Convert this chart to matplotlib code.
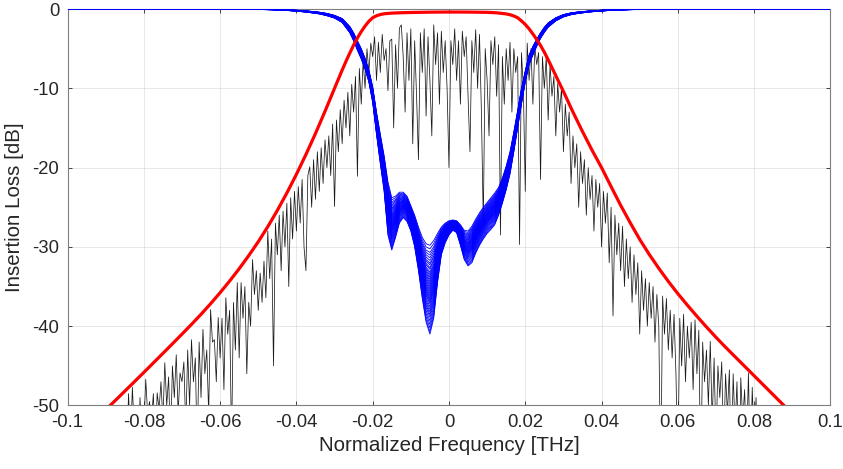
import numpy as np
import matplotlib
matplotlib.use("Agg")
import matplotlib.pyplot as plt
from matplotlib.ticker import FixedLocator, FixedFormatter

plt.rcParams['font.family'] = ['Liberation Sans', 'DejaVu Sans']
plt.rcParams['axes.unicode_minus'] = False

# ---------------- data ----------------
# Red: passband filter response
red_f = [-0.0925, -0.090, -0.0875, -0.085, -0.0825, -0.080, -0.0775, -0.075, -0.0725,
         -0.070, -0.0675, -0.065, -0.0625, -0.060, -0.0575, -0.055, -0.0525, -0.050,
         -0.0475, -0.045, -0.0425, -0.040, -0.0375, -0.035, -0.0325, -0.030, -0.029,
         -0.028, -0.027, -0.026, -0.025, -0.024, -0.023, -0.022, -0.021, -0.020,
         -0.019, -0.018, -0.017, -0.015, -0.0125, -0.010, -0.005, 0.0,
         0.005, 0.010, 0.0125, 0.015, 0.016, 0.017, 0.018, 0.019, 0.020, 0.021,
         0.022, 0.023, 0.024, 0.025, 0.026, 0.027, 0.028, 0.029, 0.030, 0.0325,
         0.035, 0.0375, 0.040, 0.0425, 0.045, 0.0475, 0.050, 0.0525, 0.055, 0.0575,
         0.060, 0.0625, 0.065, 0.0675, 0.070, 0.0725, 0.075, 0.0775, 0.080, 0.0825,
         0.085, 0.0875, 0.090, 0.0925]
red_db = [-51.7, -50.55, -49.38, -48.2, -47.02, -45.83, -44.63, -43.43, -42.22,
          -41.0, -39.77, -38.5, -37.17, -35.77, -34.3, -32.75, -31.1, -29.35,
          -27.45, -25.4, -23.2, -20.85, -18.35, -15.7, -12.9, -10.0, -8.85,
          -7.7, -6.6, -5.55, -4.55, -3.65, -2.85, -2.15, -1.55, -1.1,
          -0.85, -0.7, -0.6, -0.52, -0.47, -0.44, -0.4, -0.38,
          -0.39, -0.42, -0.48, -0.62, -0.72, -0.88, -1.1, -1.5, -1.95, -2.5,
          -3.15, -3.85, -4.6, -5.45, -6.4, -7.4, -8.4, -9.4, -10.4, -13.0,
          -15.45, -17.8, -20.0, -22.4, -24.75, -26.95, -29.05, -30.95, -32.7, -34.35,
          -35.9, -37.35, -38.75, -40.1, -41.4, -42.65, -43.85, -45.05, -46.25, -47.45,
          -48.65, -49.85, -51.05, -52.2]

# Blue: notch filter responses (Monte-Carlo family), band edges
blue_f = [-0.100, -0.060, -0.050, -0.045, -0.040, -0.037, -0.034, -0.032, -0.030,
          -0.028, -0.026, -0.025, -0.024, -0.023, -0.022, -0.021,
          -0.020, -0.019, -0.018, -0.017, -0.016, -0.015, -0.014, -0.013, -0.012, -0.011,
          -0.010, -0.009, -0.008, -0.007, -0.006, -0.005, -0.004, -0.003, -0.002, -0.001,
          0.000, 0.001, 0.002, 0.003, 0.004, 0.005, 0.006, 0.007, 0.008, 0.009,
          0.010, 0.011, 0.012, 0.013, 0.014, 0.015, 0.016, 0.017, 0.018, 0.019, 0.020,
          0.021, 0.022, 0.023, 0.024, 0.025, 0.026, 0.028, 0.030, 0.032, 0.034,
          0.037, 0.040, 0.045, 0.050, 0.060, 0.100]
blue_upper_db = [0.0, -0.005, -0.03, -0.06, -0.15, -0.25, -0.40, -0.55, -0.80,
                 -1.2, -2.2, -3.0, -4.0, -5.0, -6.2, -7.7,
                 -9.8, -13.0, -15.8, -18.5, -21.8, -23.8, -23.6, -23.1, -23.1, -23.6,
                 -24.8, -26.0, -27.5, -28.8, -29.6, -29.8, -29.2, -28.3, -27.5, -27.0,
                 -26.7, -26.6, -26.7, -27.2, -27.9, -28.0, -27.4, -26.5, -25.7, -25.0,
                 -24.4, -23.8, -23.2, -22.5, -21.3, -19.8, -18.0, -15.5, -12.8, -10.0, -7.8,
                 -5.8, -4.7, -3.8, -3.0, -2.3, -1.75, -1.1, -0.70, -0.48, -0.36,
                 -0.24, -0.15, -0.06, -0.03, -0.005, 0.0]
blue_lower_db = [0.0, -0.015, -0.06, -0.11, -0.27, -0.42, -0.62, -0.85, -1.15,
                 -1.7, -3.0, -4.0, -5.2, -6.3, -7.6, -9.2,
                 -11.8, -15.8, -19.5, -23.0, -28.5, -30.4, -28.8, -27.0, -26.3, -26.8,
                 -28.0, -30.0, -33.0, -36.5, -39.5, -41.0, -39.0, -34.5, -31.0, -29.5,
                 -28.5, -27.9, -28.2, -29.8, -31.6, -32.4, -32.0, -30.8, -29.8, -29.0,
                 -28.3, -27.8, -27.2, -26.0, -24.5, -22.8, -20.8, -18.0, -15.0, -12.0, -9.2,
                 -7.0, -5.8, -4.7, -3.7, -2.95, -2.3, -1.5, -1.0, -0.72, -0.55,
                 -0.37, -0.25, -0.11, -0.06, -0.015, 0.0]
# position of each Monte-Carlo trace inside the band (0 = upper edge, 1 = lower edge)
blue_mix = [0.00, 0.04, 0.08, 0.11, 0.14, 0.17, 0.20, 0.22, 0.25, 0.27,
            0.30, 0.32, 0.34, 0.36, 0.38, 0.40, 0.42, 0.44, 0.46, 0.48,
            0.50, 0.52, 0.54, 0.56, 0.58, 0.60, 0.62, 0.64, 0.66, 0.69,
            0.72, 0.75, 0.78, 0.81, 0.85, 0.89, 0.93, 0.97, 1.00]

# Black: measured spectrum, f from -0.09 to 0.09 THz
black_f_start, black_f_stop = -0.09, 0.09
black_db = [
    -58, -62, -56, -60, -57, -63, -55, -59, -54, -60,
    -50, -56, -48.5, -55, -47.7, -53, -51, -58, -49, -54,
    -53, -46.7, -51, -49.5, -52, -48.5, -56, -48.4, -50.5, -47,
    -52, -44.6, -50, -46.4, -55, -45, -49, -43.6, -51, -45.9,
    -47, -44.5, -53, -43, -50, -41.7, -47, -44, -56, -42,
    -49, -40.4, -46, -43, -51, -37.9, -42, -41.7, -47, -38.9,
    -44, -39, -48, -36.4, -41, -38, -55, -37, -43, -34.5,
    -44, -34.5, -39, -35, -46, -37, -40, -31.6, -36, -33,
    -38, -33.3, -37, -31.8, -36.4, -28, -34, -29, -45, -27,
    -31, -26, -33, -25.5, -30, -24.5, -35, -23.8, -29, -23,
    -28, -22.4, -27, -21.5, -30, -33, -21, -19.9, -25, -19,
    -24, -18, -23, -17.5, -22, -16.5, -20, -16, -21, -14.5,
    -24.9, -14, -18, -12.7, -17, -11.5, -15, -10.5, -16, -9.5,
    -13, -8.5, -21.1, -7.5, -12, -6.5, -10, -5, -8, -4.3,
    -6, -3.5, -9, -4.2, -8, -3.2, -6.5, -5, -10.3, -4,
    -3.8, -15, -4.5, -10, -2.4, -2, -6, -13, -3, -9,
    -2.5, -17, -4, -11, -19, -3, -8, -2.5, -13.5, -3.5,
    -9, -16, -2, -7, -3, -12, -2.8, -8, -4, -10,
    -20, -4, -7, -2.5, -9, -4, -12, -2.8, -6, -3.5,
    -11, -18, -4, -8, -2.6, -10, -3.2, -13, -27, -5,
    -9, -16, -4, -7, -3.5, -11, -4.5, -28.5, -6, -12,
    -5, -9, -4.2, -13, -5, -8, -6, -29.7, -5.5, -10,
    -23, -4.3, -9, -5, -12, -4.8, -7, -5.5, -21.5, -6,
    -10, -6, -14, -7, -11, -8.5, -16, -9.4, -13, -10,
    -18, -12, -16, -13, -22, -16, -20, -17, -25, -18,
    -22, -19, -26, -20, -24, -21, -28, -21.5, -25, -22,
    -30, -23, -27, -23.2, -32, -25, -38.7, -26, -31, -27,
    -33, -27.4, -35, -29, -34, -30, -37, -31, -36, -32,
    -41, -33, -38, -34, -40, -34.5, -39, -35, -42, -36,
    -40, -60, -36.2, -41, -36.5, -43, -38, -44, -38.5, -46,
    -58, -39, -45, -38.5, -47, -40, -44, -39.5, -48, -39.2,
    -46, -40.5, -60, -42, -47, -43, -50, -41.9, -52, -44,
    -55, -45, -49, -44.5, -56, -46, -51, -45.5, -58, -46,
    -53, -47, -60, -46.5, -52, -48, -56, -45.9, -58, -47.7,
    -55, -49, -60, -51, -57, -53, -60, -54, -58, -56,
    -60, -57, -61, -58, -62, -59, -63, -60, -62, -61, -63,
]

x_ticks = [-0.1, -0.08, -0.06, -0.04, -0.02, 0, 0.02, 0.04, 0.06, 0.08, 0.1]
x_tick_labels = ['-0.1', '-0.08', '-0.06', '-0.04', '-0.02', '0', '0.02', '0.04',
                 '0.06', '0.08', '0.1']
y_ticks = [-50, -40, -30, -20, -10, 0]
y_tick_labels = ['-50', '-40', '-30', '-20', '-10', '0']

# ---------------- plot ----------------
fig = plt.figure(figsize=(8.43, 4.69), dpi=100)
ax = fig.add_axes([0.0801, 0.1354, 0.905, 0.8454])

black_f = np.linspace(black_f_start, black_f_stop, len(black_db))
ax.plot(black_f, black_db, color='#1a1a1a', lw=0.55, zorder=2)

up = np.array(blue_upper_db)
lo = np.array(blue_lower_db)
for w in blue_mix:
    ax.plot(blue_f, up + w * (lo - up), color='blue', lw=0.6, zorder=3)

ax.plot(red_f, red_db, color='red', lw=2.3, zorder=4)

ax.set_xlim(-0.1, 0.1)
ax.set_ylim(-50, 0)
ax.xaxis.set_major_locator(FixedLocator(x_ticks))
ax.xaxis.set_major_formatter(FixedFormatter(x_tick_labels))
ax.yaxis.set_major_locator(FixedLocator(y_ticks))
ax.yaxis.set_major_formatter(FixedFormatter(y_tick_labels))

dark = '#262626'
ax.grid(True, color=dark, alpha=0.12, lw=0.6)
ax.set_axisbelow(True)
ax.tick_params(direction='in', length=3, width=0.6, colors=dark, labelsize=13.3,
               top=True, right=True, pad=6)
for s in ax.spines.values():
    s.set_color('#7f7f7f')
    s.set_linewidth(0.8)

ax.set_xlabel('Normalized Frequency [THz]', fontsize=14.8, color=dark, labelpad=4)
ax.set_ylabel('Insertion Loss [dB]', fontsize=14.8, color=dark, labelpad=6)

fig.savefig('out.png', dpi=100)
